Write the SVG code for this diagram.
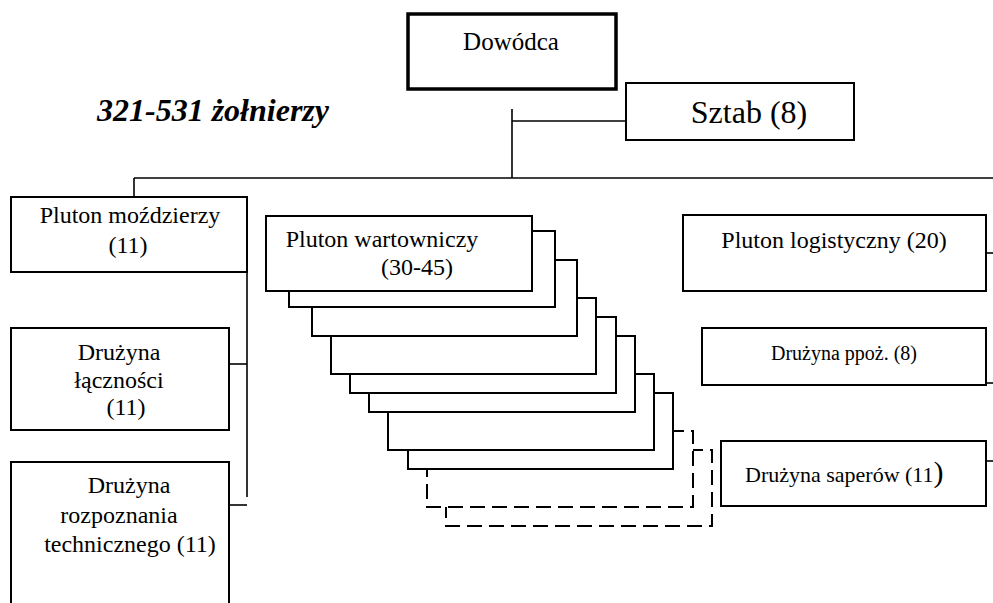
<svg xmlns="http://www.w3.org/2000/svg" width="993" height="603" viewBox="0 0 993 603">
<style>
.box{fill:#fff;stroke:#000;stroke-width:2}
.dash{fill:#fff;stroke:#000;stroke-width:2;stroke-dasharray:15 7}
.ln{fill:none;stroke:#000;stroke-width:1.6}
text{font-family:"Liberation Serif","Times New Roman",serif;fill:#000;font-size:24px;text-anchor:middle}
</style>
<rect width="993" height="603" fill="#fff"/>
<g id="connectors">
<line class="ln" x1="512" y1="109" x2="512" y2="178"/>
<line class="ln" x1="512" y1="121" x2="626" y2="121"/>
<line class="ln" x1="134" y1="178" x2="993" y2="178"/>
<line class="ln" x1="134" y1="178" x2="134" y2="197"/>
<line class="ln" x1="247" y1="197" x2="247" y2="497"/>
<line class="ln" x1="229" y1="364" x2="247" y2="364"/>
<line class="ln" x1="229" y1="505" x2="247" y2="505"/>
<line class="ln" x1="986" y1="253" x2="993" y2="253"/>
<line class="ln" x1="986" y1="383" x2="993" y2="383"/>
<line class="ln" x1="986" y1="461" x2="993" y2="461"/>
</g>
<g id="title">
<text x="97" y="121" style="font-size:32px;font-weight:bold;font-style:italic;text-anchor:start">321-531 żołnierzy</text>
</g>
<g id="dowodca">
<rect x="408" y="14" width="208" height="75" style="fill:#fff;stroke:#000;stroke-width:3.5"/>
<text x="511" y="50" style="font-size:25px">Dowódca</text>
</g>
<g id="sztab">
<rect x="626" y="83" width="228" height="57" class="box"/>
<text x="749" y="123" style="font-size:32px">Sztab (8)</text>
</g>
<g id="pluton-mozdzierzy">
<rect x="11" y="197" width="236" height="75" class="box"/>
<text x="130" y="223">Pluton moździerzy</text>
<text x="128" y="253">(11)</text>
</g>
<g id="druzyna-lacznosci">
<rect x="11" y="328" width="218" height="102" class="box"/>
<text x="119" y="360">Drużyna</text>
<text x="119" y="388">łączności</text>
<text x="126" y="415">(11)</text>
</g>
<g id="druzyna-rozpoznania">
<rect x="11" y="462" width="218" height="150" class="box"/>
<text x="129" y="493">Drużyna</text>
<text x="119" y="523">rozpoznania</text>
<text x="130" y="552">technicznego (11)</text>
</g>
<g id="pluton-wartowniczy">
<rect x="446" y="450" width="266" height="76" class="dash"/>
<rect x="427" y="431" width="266" height="76" class="dash"/>
<rect x="408" y="393" width="265" height="76" class="box"/>
<rect x="388" y="374" width="266" height="76" class="box"/>
<rect x="369" y="336" width="266" height="76" class="box"/>
<rect x="350" y="317" width="266" height="76" class="box"/>
<rect x="331" y="298" width="265" height="76" class="box"/>
<rect x="312" y="260" width="265" height="76" class="box"/>
<rect x="289" y="231" width="266" height="76" class="box"/>
<rect x="266" y="216" width="266" height="75" class="box"/>
<text x="382" y="247">Pluton wartowniczy</text>
<text x="417" y="275">(30-45)</text>
</g>
<g id="pluton-logistyczny">
<rect x="683" y="215" width="303" height="76" class="box"/>
<text x="834" y="248">Pluton logistyczny (20)</text>
</g>
<g id="druzyna-ppoz">
<rect x="702" y="328" width="284" height="57" class="box"/>
<text x="844" y="360" style="font-size:20px">Drużyna ppoż. (8)</text>
</g>
<g id="druzyna-saperow">
<rect x="721" y="441" width="265" height="65" class="box"/>
<text x="745" y="482" style="font-size:22px;text-anchor:start">Drużyna saperów (11<tspan style="font-size:30px">)</tspan></text>
</g>
</svg>
